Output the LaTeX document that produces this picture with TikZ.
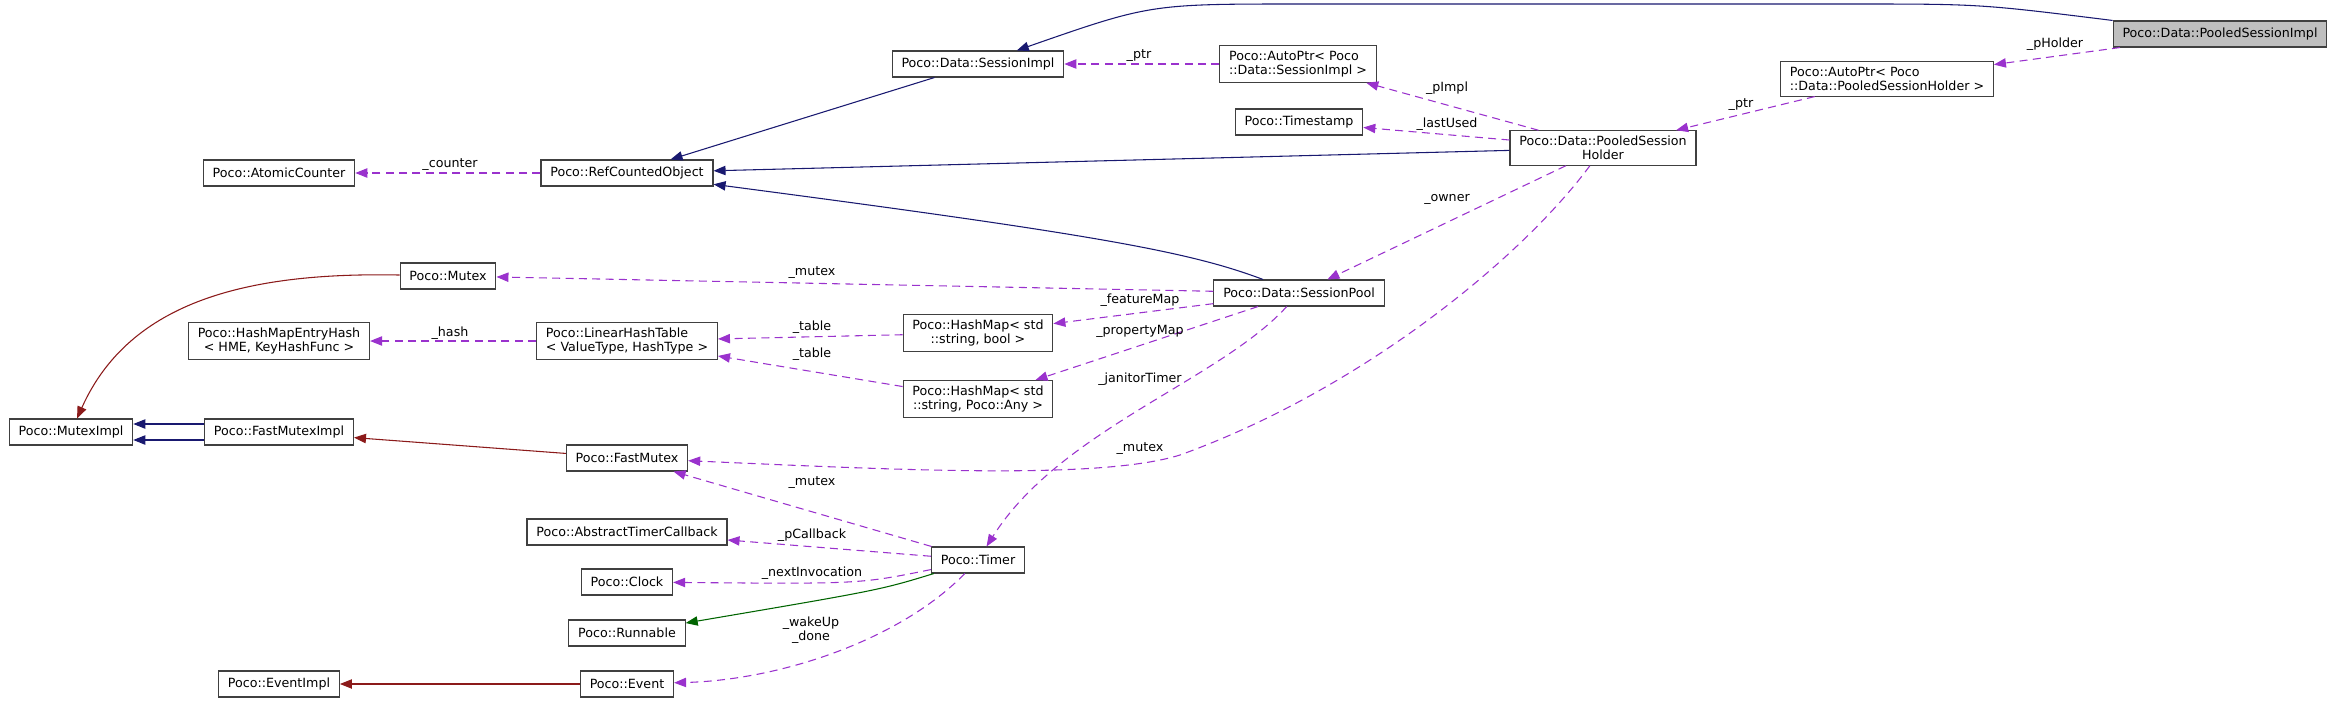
\documentclass[tikz,border=0pt]{standalone}
\usepackage{fontspec}
\setmainfont{DejaVu Sans}
\usepackage{tikz}
\usetikzlibrary{arrows.meta}
\definecolor{inhblue}{HTML}{191970}
\definecolor{privred}{HTML}{8B1A1A}
\definecolor{protgreen}{HTML}{006400}
\definecolor{usepurple}{HTML}{9A32CD}

\begin{document}
\begin{tikzpicture}[x=0.75pt, y=-0.75pt,
    cls/.style={draw=black!75, line width=0.8pt, fill=white, inner xsep=7pt, inner ysep=4pt,
        minimum height=19.5pt, align=center, font=\fontsize{9.5}{10.5}\selectfont},
    lbl/.style={inner sep=0pt, align=center, font=\fontsize{9.5}{10.5}\selectfont},
    pub/.style={draw=inhblue, line width=0.8pt, -{Triangle[length=9pt,width=7pt]}},
    priv/.style={draw=privred, line width=0.8pt, -{Triangle[length=9pt,width=7pt]}},
    prot/.style={draw=protgreen, line width=0.8pt, -{Triangle[length=9pt,width=7pt]}},
    use/.style={draw=usepurple, line width=0.8pt, dash pattern=on 6pt off 4pt, -{Triangle[length=9pt,width=7pt]}}]
    \useasboundingbox (0,0) rectangle (2337,703);

    % Classes
    \node[cls, fill=black!25] (psi) at (2220,34) {Poco::Data::PooledSessionImpl};
    \node[cls] (si) at (978,64) {Poco::Data::SessionImpl};
    \node[cls, align=left] (apsi) at (1298,64) {Poco::AutoPtr< Poco\\::Data::SessionImpl >};
    \node[cls, align=left] (apsh) at (1887,79) {Poco::AutoPtr< Poco\\::Data::PooledSessionHolder >};
    \node[cls] (ts) at (1299,122) {Poco::Timestamp};
    \node[cls] (psh) at (1603,148) {Poco::Data::PooledSession\\Holder};
    \node[cls] (ac) at (279,173) {Poco::AtomicCounter};
    \node[cls] (rco) at (627,173) {Poco::RefCountedObject};
    \node[cls] (mtx) at (448,276) {Poco::Mutex};
    \node[cls] (sp) at (1299,293) {Poco::Data::SessionPool};
    \node[cls] (hmeh) at (279,341) {Poco::HashMapEntryHash\\< HME, KeyHashFunc >};
    \node[cls, align=left] (lht) at (627,341) {Poco::LinearHashTable\\< ValueType, HashType >};
    \node[cls] (hmb) at (978,333) {Poco::HashMap< std\\::string, bool >};
    \node[cls] (hma) at (978,399) {Poco::HashMap< std\\::string, Poco::Any >};
    \node[cls] (mi) at (71,432) {Poco::MutexImpl};
    \node[cls] (fmi) at (279,432) {Poco::FastMutexImpl};
    \node[cls] (fm) at (627,458) {Poco::FastMutex};
    \node[cls] (atc) at (627,532) {Poco::AbstractTimerCallback};
    \node[cls] (timer) at (978,560) {Poco::Timer};
    \node[cls] (clk) at (627,582) {Poco::Clock};
    \node[cls] (run) at (627,633) {Poco::Runnable};
    \node[cls] (evi) at (279,684) {Poco::EventImpl};
    \node[cls] (ev) at (627,684) {Poco::Event};

    % Inheritance
    \draw[pub] (psi.north west) .. controls (1980,4) .. (1850,4) -- (1300,4) .. controls (1150,4) .. (si);
    \draw[pub] (si) -- (rco);
    \draw[pub] (psh) -- (rco);
    \draw[pub] (sp) .. controls (1190,252) and (1100,235) .. (rco);
    \draw[pub] ([yshift=6pt]fmi.west) -- ([yshift=6pt]mi.east);
    \draw[pub] ([yshift=-6pt]fmi.west) -- ([yshift=-6pt]mi.east);
    \draw[priv] (mtx) .. controls (250,272) and (130,300) .. (mi);
    \draw[priv] (fm) -- (fmi);
    \draw[priv] (ev) -- (evi);
    \draw[prot] (timer) .. controls (880,590) .. (run);

    % Members
    \draw[use] (psi) -- (apsh);
    \draw[use] (apsh) -- (psh);
    \draw[use] (apsi) -- (si);
    \draw[use] (psh) -- (apsi);
    \draw[use] (psh) -- (ts);
    \draw[use] (rco) -- (ac);
    \draw[use] (psh) -- (sp);
    \draw[use] (sp) -- (mtx);
    \draw[use] (sp) -- (hmb);
    \draw[use] (sp) -- (hma);
    \draw[use] (sp) .. controls (1220,380) and (1060,430) .. (timer);
    \draw[use] (psh) .. controls (1520,260) and (1360,390) .. (1180,455)
        .. controls (1100,480) and (900,470) .. (fm);
    \draw[use] (hmb) -- (lht);
    \draw[use] (hma) -- (lht);
    \draw[use] (lht) -- (hmeh);
    \draw[use] (timer) -- (fm);
    \draw[use] (timer) -- (atc);
    \draw[use] (timer) .. controls (860,584) .. (clk);
    \draw[use] (timer) .. controls (900,640) and (780,680) .. (ev);

    % Member names
    \node[lbl] (lpholder) at (2055,44) {\_pHolder};
    \node[lbl] (lptrb) at (1741,105) {\_ptr};
    \node[lbl] (lptra) at (1139,56) {\_ptr};
    \node[lbl] (lpimpl) at (1447,88) {\_pImpl};
    \node[lbl] (llastused) at (1447,124) {\_lastUsed};
    \node[lbl] (lcounter) at (450,165) {\_counter};
    \node[lbl] (lowner) at (1447,199) {\_owner};
    \node[lbl] (lmutexa) at (812,273) {\_mutex};
    \node[lbl] (lfeature) at (1140,300) {\_featureMap};
    \node[lbl] (ltablea) at (812,327) {\_table};
    \node[lbl] (ltableb) at (812,354) {\_table};
    \node[lbl] (lhash) at (450,333) {\_hash};
    \node[lbl] (lproperty) at (1140,331) {\_propertyMap};
    \node[lbl] (ljanitor) at (1140,379) {\_janitorTimer};
    \node[lbl] (lmutexb) at (1140,449) {\_mutex};
    \node[lbl] (lmutexc) at (812,483) {\_mutex};
    \node[lbl] (lcallback) at (812,535) {\_pCallback};
    \node[lbl] (lnext) at (812,573) {\_nextInvocation};
    \node[lbl] (lwakeup) at (811,630) {\_wakeUp\\\_done};
\end{tikzpicture}
\end{document}
